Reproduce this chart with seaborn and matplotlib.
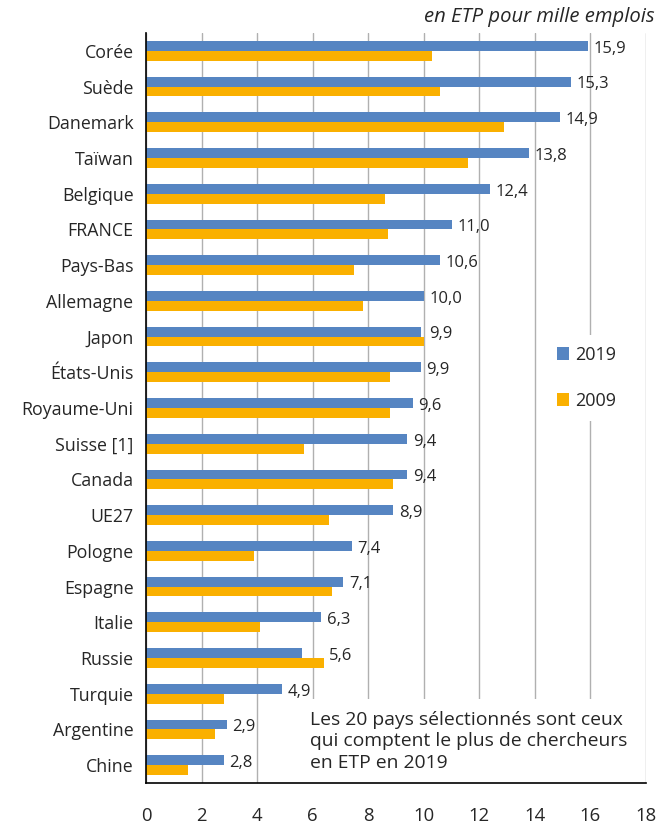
import matplotlib
matplotlib.use("Agg")
import matplotlib.pyplot as plt
from matplotlib.patches import Rectangle
import seaborn as sns
import pandas as pd
import numpy as np

countries = ["Corée", "Suède", "Danemark", "Taïwan", "Belgique", "FRANCE", "Pays-Bas",
             "Allemagne", "Japon", "États-Unis", "Royaume-Uni", "Suisse [1]", "Canada",
             "UE27", "Pologne", "Espagne", "Italie", "Russie", "Turquie", "Argentine", "Chine"]
v2019 = [15.9, 15.3, 14.9, 13.8, 12.4, 11.0, 10.6, 10.0, 9.9, 9.9, 9.6, 9.4, 9.4, 8.9,
         7.4, 7.1, 6.3, 5.6, 4.9, 2.9, 2.8]
v2009 = [10.3, 10.6, 12.9, 11.6, 8.6, 8.7, 7.5, 7.8, 10.0, 8.8, 8.8, 5.7, 8.9, 6.6,
         3.9, 6.7, 4.1, 6.4, 2.8, 2.5, 1.5]
years = ["2019", "2009"]
xticks = [0, 2, 4, 6, 8, 10, 12, 14, 16, 18]

blue = "#5685C2"
orange = "#FAB000"

df = pd.DataFrame({
    "pays": countries * 2,
    "valeur": v2019 + v2009,
    "annee": ["2019"] * len(countries) + ["2009"] * len(countries),
})

sns.set_style("white")
plt.rcParams["font.family"] = ["Open Sans", "DejaVu Sans"]

fig = plt.figure(figsize=(6.71, 8.23), dpi=100)
ax = fig.add_axes([146 / 671, 1 - 783 / 823, 500 / 671, 750 / 823])

sns.barplot(data=df, y="pays", x="valeur", hue="annee", hue_order=years,
            palette=[blue, orange], orient="h", width=0.55, ax=ax,
            edgecolor="none", linewidth=0, saturation=1, legend=True)

ax.set_xlim(0, 18)
ax.set_ylim(len(countries) - 0.5, -0.5)
ax.set_xticks(xticks)
ax.set_xticklabels([str(t) for t in xticks], fontsize=13.3)
ax.tick_params(axis="x", length=0, pad=17)
ax.tick_params(axis="y", which="major", length=0, pad=9, labelsize=12.8)
ax.set_yticks(np.arange(-0.5, len(countries), 1), minor=True)
ax.tick_params(axis="y", which="minor", length=6, width=1, color="black", direction="out")
ax.set_xlabel("")
ax.set_ylabel("")

ax.grid(axis="x", color="#b0b0b0", linewidth=1)
ax.set_axisbelow(True)
for s in ["top", "right"]:
    ax.spines[s].set_visible(False)
for s in ["left", "bottom"]:
    ax.spines[s].set_color("black")
    ax.spines[s].set_linewidth(1.2)

# value labels (2019 only)
for i, (a, b) in enumerate(zip(v2019, v2009)):
    ax.annotate(f"{a:.1f}".replace(".", ","), xy=(max(a, b), i - 0.06),
                xytext=(4, 0), textcoords="offset points",
                va="center", ha="left", fontsize=12)

leg = ax.legend(loc="upper left", bbox_to_anchor=(391 / 500, 1 - 293 / 750),
                frameon=True, facecolor="white", edgecolor="none", framealpha=1,
                fontsize=13, handlelength=0.65, handleheight=0.65, labelspacing=1.55,
                handletextpad=0.35, borderpad=0.6)
leg.get_frame().set_linewidth(0)

# white background of the note (hides gridlines)
ax.add_patch(Rectangle((5.95, 18.15), 17.75 - 5.95, 2.35, facecolor="white",
                       edgecolor="none", zorder=0.8, clip_on=True))
ax.text(5.9, 19.33, "Les 20 pays sélectionnés sont ceux\nqui comptent le plus de chercheurs\nen ETP en 2019",
        fontsize=13.9, va="center", ha="left", linespacing=1.25, zorder=3)

fig.text(655 / 671, 1 - 17 / 823, "en ETP pour mille emplois", ha="right", va="center",
         fontsize=14.6, style="italic")

fig.savefig("out.png", dpi=100)
